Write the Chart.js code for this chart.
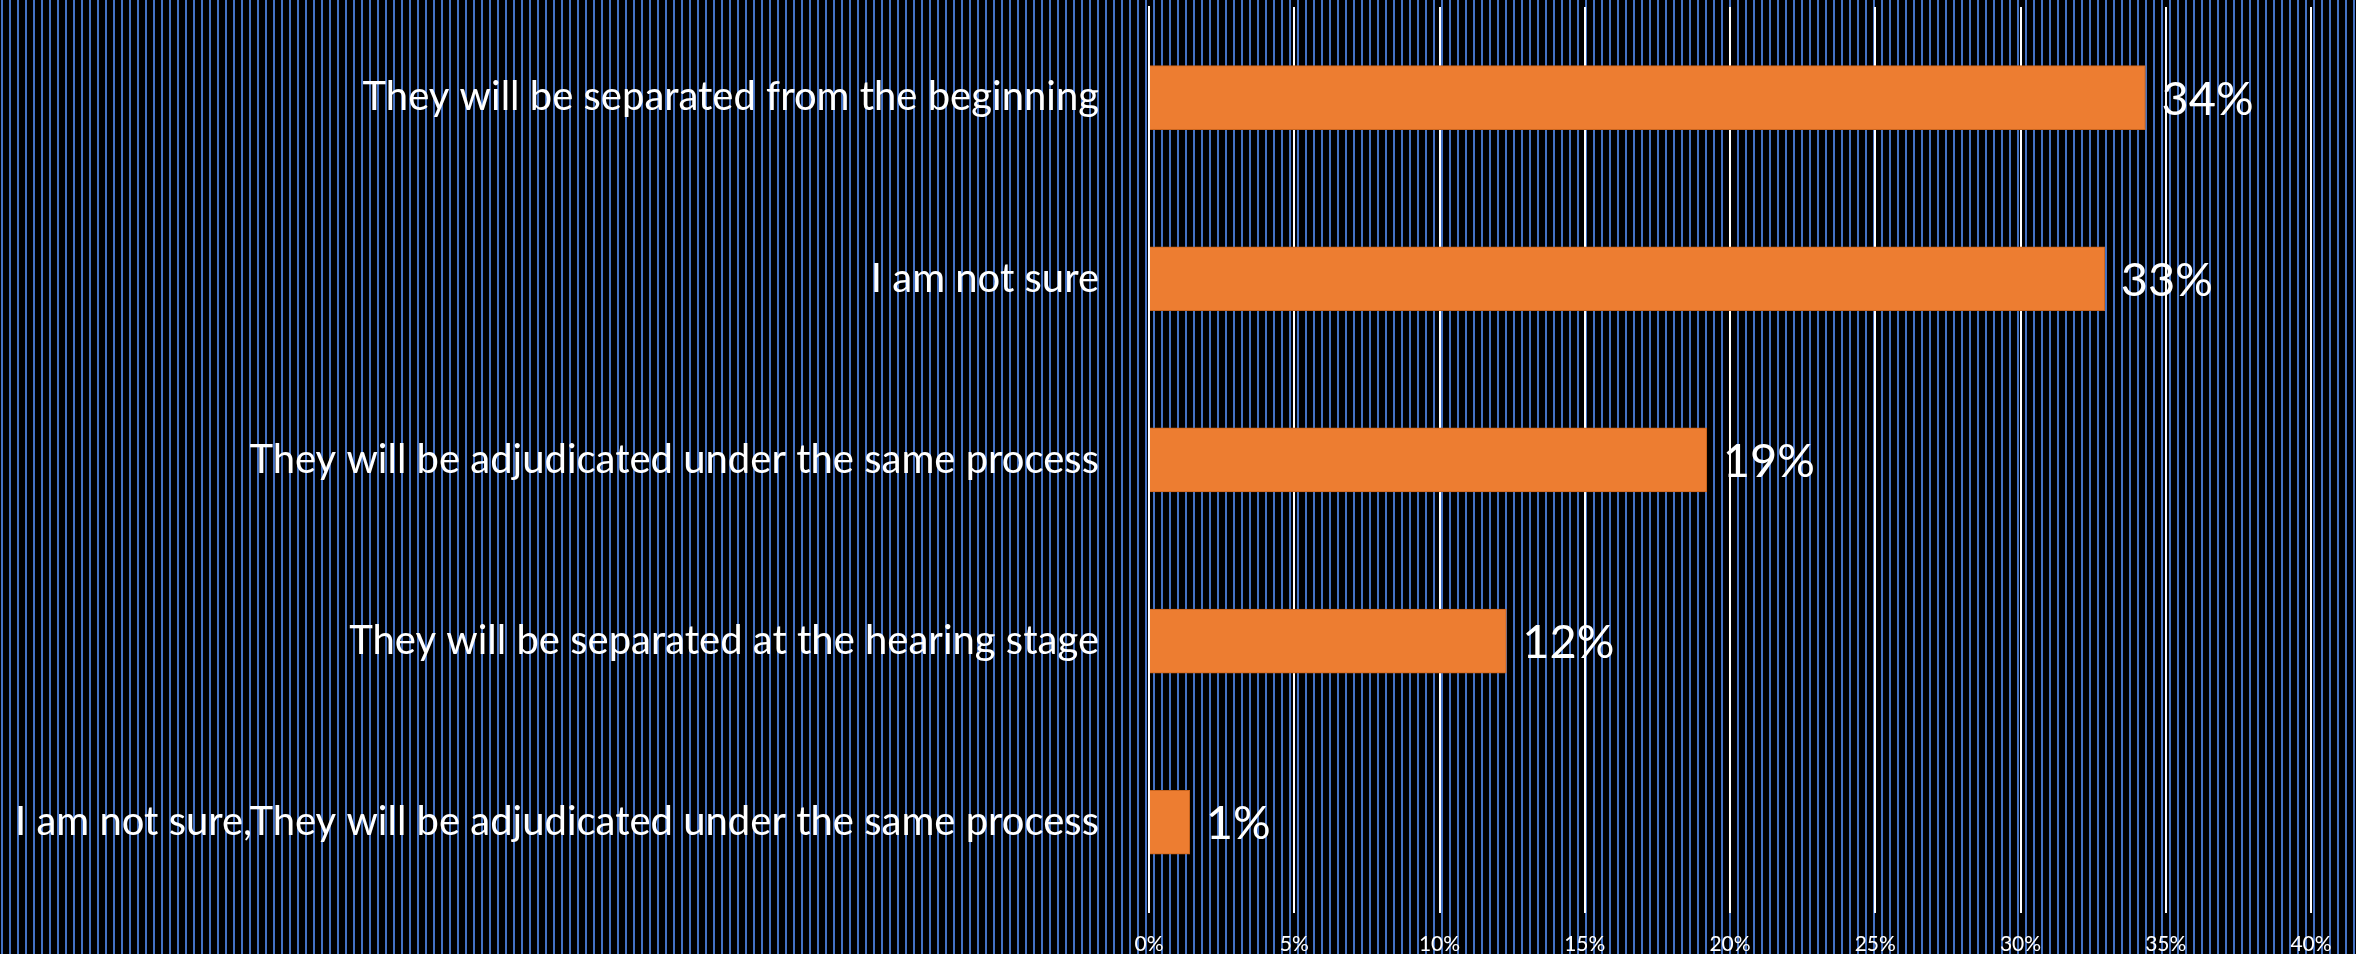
<!DOCTYPE html>
<html>
<head>
<meta charset="utf-8">
<script src="https://cdn.jsdelivr.net/npm/chart.js@4.4.1/dist/chart.umd.min.js"></script>
<style>
  html, body { margin: 0; padding: 0; background: #000; overflow: hidden; }
  /* taller than the window: the tick labels are cut by the bottom edge, as in the original */
  #wrap { width: 2356px; height: 976px; }
</style>
</head>
<body>
<div id="wrap"><canvas id="chart"></canvas></div>
<script>
const categories = [
    'They will be separated from the beginning',
    'I am not sure',
    'They will be adjudicated under the same process',
    'They will be separated at the hearing stage',
    'I am not sure,They will be adjudicated under the same process'
];
const shares = [34.3, 32.9, 19.2, 12.3, 1.4];
const shareLabels = ['34%', '33%', '19%', '12%', '1%'];
const xTicks = [0, 5, 10, 15, 20, 25, 30, 35, 40];

// striped background behind everything
const stripes = {
    id: 'stripes',
    beforeDraw(chart) {
        const ctx = chart.ctx;
        ctx.save();
        ctx.fillStyle = '#000000';
        ctx.fillRect(0, 0, chart.width, chart.height);
        ctx.fillStyle = '#4472C4';
        for (let x = 1; x < chart.width; x += 8) {
            ctx.fillRect(x, 0, 2, chart.height);
        }
        ctx.restore();
    }
};

// value labels to the right of each bar
const barLabels = {
    id: 'barLabels',
    afterDatasetsDraw(chart) {
        const ctx = chart.ctx;
        const meta = chart.getDatasetMeta(0);
        ctx.save();
        ctx.fillStyle = '#ffffff';
        ctx.font = '47px Lato';
        ctx.textAlign = 'left';
        ctx.textBaseline = 'middle';
        meta.data.forEach((bar, i) => {
            ctx.fillText(shareLabels[i], bar.x + 16, bar.y + 2);
        });
        ctx.restore();
    }
};

new Chart(document.getElementById('chart'), {
    type: 'bar',
    data: {
        labels: categories,
        datasets: [{
            data: shares,
            backgroundColor: '#ED7D31',
            borderColor: '#C8641F',
            borderWidth: 1,
            barThickness: 64
        }]
    },
    options: {
        indexAxis: 'y',
        responsive: true,
        maintainAspectRatio: false,
        animation: false,
        layout: { padding: { top: 7, right: 45, left: 0, bottom: 0 } },
        plugins: {
            legend: { display: false },
            tooltip: { enabled: false }
        },
        scales: {
            x: {
                min: 0,
                max: 40,
                afterBuildTicks(scale) {
                    scale.ticks = xTicks.map(v => ({ value: v }));
                },
                grid: { color: '#ffffff', lineWidth: 2, drawTicks: false },
                border: { display: false },
                ticks: {
                    color: '#ffffff',
                    font: { family: 'Lato', size: 21 },
                    padding: 19,
                    maxRotation: 0,
                    callback: v => v + '%'
                }
            },
            y: {
                afterFit(scale) {
                    scale.width = 1149;
                    scale.paddingTop = 0;
                    scale.paddingBottom = 0;
                },
                // invisible tick marks give the gap between labels and axis
                grid: {
                    drawOnChartArea: false,
                    drawTicks: true,
                    tickLength: 50,
                    tickColor: 'rgba(0,0,0,0)'
                },
                border: { color: '#ffffff', width: 2 },
                ticks: {
                    color: '#ffffff',
                    font: { family: 'Lato', size: 40 },
                    padding: 0
                }
            }
        }
    },
    plugins: [stripes, barLabels]
});
</script>
</body>
</html>
